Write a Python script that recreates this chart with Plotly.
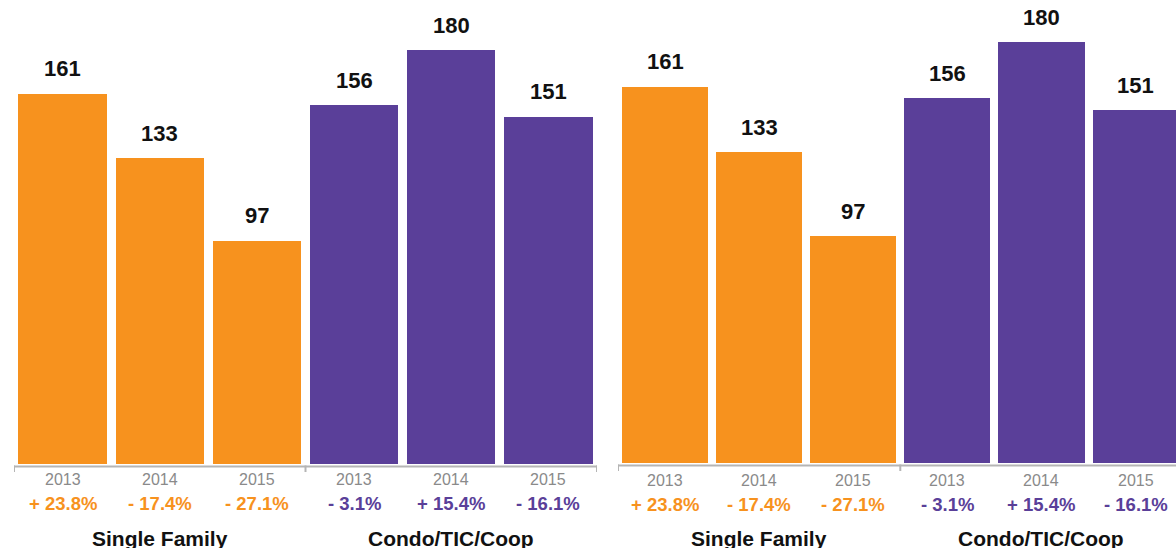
import plotly.graph_objects as go

# ---- data ----
years = ["2013", "2014", "2015"]
groups = ["Single Family", "Condo/TIC/Coop"]
single_family = [161, 133, 97]
condo = [156, 180, 151]
single_family_change = ["+ 23.8%", "- 17.4%", "- 27.1%"]
condo_change = ["- 3.1%", "+ 15.4%", "- 16.1%"]

ORANGE = "#F7921E"
PURPLE = "#5A3F99"
GRAY = "#8a8a8a"
LINE = "#b5b5b5"
FONT = "Liberation Sans, Arial, Helvetica, sans-serif"

W, H = 1176, 548

def py(pix):
    return (H - pix) / H

# panel geometry (pixels)
panels = [
    dict(xd=[14 / W, 597 / W], xr=[-0.5, 5.5], base=464, ytop=201.8,
         line=466.5, tick_end=472, year_y=479, pct_y=503.5, title_y=538.5, width=0.91),
    dict(xd=[618 / W, 1.0], xr=[-0.5, -0.5 + (W - 618) / 94.1], base=463, ytop=198.1,
         line=465.5, tick_end=471, year_y=480, pct_y=504.5, title_y=538.5, width=0.915),
]

series = [(single_family, single_family_change, ORANGE), (condo, condo_change, PURPLE)]

fig = go.Figure()
annotations = []
shapes = []

for p_i, p in enumerate(panels):
    xa = "x" if p_i == 0 else "x2"
    ya = "y" if p_i == 0 else "y2"
    for g_i, (vals, changes, color) in enumerate(series):
        xs = [g_i * len(years) + k for k in range(len(years))]
        fig.add_trace(go.Bar(
            x=xs, y=vals, marker=dict(color=color, line=dict(width=0)),
            width=p["width"], xaxis=xa, yaxis=ya, showlegend=False,
            hoverinfo="skip",
        ))
        for x, v, yr, ch in zip(xs, vals, years, changes):
            annotations.append(dict(
                x=x, y=v, xref=xa, yref=ya, text="<b>%d</b>" % v, showarrow=False,
                yanchor="middle", yshift=25,
                font=dict(family=FONT, size=22, color="#111111")))
            annotations.append(dict(
                x=x, y=py(p["year_y"]), xref=xa, yref="paper", text=yr, showarrow=False,
                yanchor="middle", font=dict(family=FONT, size=16, color=GRAY)))
            annotations.append(dict(
                x=x, y=py(p["pct_y"]), xref=xa, yref="paper", text="<b>%s</b>" % ch,
                showarrow=False, yanchor="middle",
                font=dict(family=FONT, size=18.5, color=color)))
        annotations.append(dict(
            x=xs[1], y=py(p["title_y"]), xref=xa, yref="paper",
            text="<b>%s</b>" % groups[g_i], showarrow=False, yanchor="middle",
            font=dict(family=FONT, size=21, color="#111111")))
    # axis bracket
    n = len(years) * len(groups)
    shapes.append(dict(type="line", xref=xa, yref="paper", x0=-0.5, x1=n - 0.5,
                       y0=py(p["line"]), y1=py(p["line"]),
                       line=dict(color=LINE, width=2)))
    for b in range(len(groups) + 1):
        xb = b * len(years) - 0.5
        shapes.append(dict(type="line", xref=xa, yref="paper", x0=xb, x1=xb,
                           y0=py(p["line"] - 1), y1=py(p["tick_end"]),
                           line=dict(color=LINE, width=2)))

axis_common = dict(showgrid=False, zeroline=False, showticklabels=False,
                   showline=False, ticks="", fixedrange=True)

fig.update_layout(
    width=W, height=H,
    margin=dict(l=0, r=0, t=0, b=0),
    paper_bgcolor="white", plot_bgcolor="white",
    bargap=0, barmode="overlay",
    xaxis=dict(domain=panels[0]["xd"], range=panels[0]["xr"], **axis_common),
    yaxis=dict(domain=[py(panels[0]["base"]), 1], range=[0, panels[0]["ytop"]], **axis_common),
    xaxis2=dict(domain=panels[1]["xd"], range=panels[1]["xr"], anchor="y2", **axis_common),
    yaxis2=dict(domain=[py(panels[1]["base"]), 1], range=[0, panels[1]["ytop"]], anchor="x2",
                **axis_common),
    annotations=annotations,
    shapes=shapes,
    font=dict(family=FONT),
)

fig.write_html("out.html", config={"displayModeBar": False})

# remove the browser's default body margin so the figure fills the window exactly
with open("out.html", "r", encoding="utf-8") as f:
    html = f.read()
html = html.replace("<body>", '<body style="margin:0;padding:0;overflow:hidden">', 1)
with open("out.html", "w", encoding="utf-8") as f:
    f.write(html)
